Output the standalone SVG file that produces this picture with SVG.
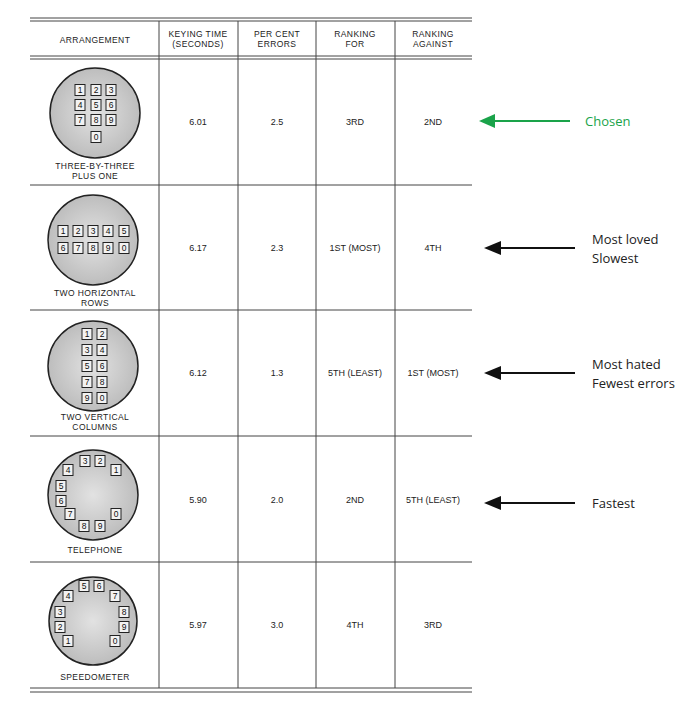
<svg xmlns="http://www.w3.org/2000/svg" width="700" height="707" viewBox="0 0 700 707">
<style>
.t{font-family:"Liberation Sans",Arial,sans-serif;font-size:8.5px;fill:#222;text-anchor:middle;letter-spacing:0.4px}
.v{font-family:"Liberation Sans",Arial,sans-serif;font-size:9px;fill:#222;text-anchor:middle}
.k{font-family:"Liberation Sans",Arial,sans-serif;font-size:8.5px;fill:#111;text-anchor:middle}
.kb{fill:#f2f2f2;stroke:#222;stroke-width:1}
.dial{fill:url(#g);stroke:#222;stroke-width:1.5}
.ln{stroke:#444;stroke-width:1;fill:none}
.a{font-family:"Open Sans","Liberation Sans",sans-serif;font-size:13px;fill:#222}
</style>
<defs>
<radialGradient id="g"><stop offset="0" stop-color="#e2e2e2"/><stop offset="1" stop-color="#bdbdbd"/></radialGradient>
<marker id="ab" markerWidth="10" markerHeight="10" refX="1" refY="5" orient="auto" markerUnits="userSpaceOnUse"><path d="M0,5 L14,0 L14,10Z" fill="#111"/></marker>
<symbol id="key" overflow="visible"><rect class="kb" x="-5" y="-5.5" width="10" height="11"/></symbol>
</defs>
<rect width="700" height="707" fill="#fff"/>
<g id="table">
<line class="ln" x1="30" y1="18" x2="472" y2="18" stroke-width="2"/>
<line class="ln" x1="30" y1="21" x2="472" y2="21"/>
<line class="ln" x1="30" y1="56" x2="472" y2="56"/>
<line class="ln" x1="30" y1="59" x2="472" y2="59"/>
<line class="ln" x1="30" y1="185" x2="472" y2="185"/>
<line class="ln" x1="30" y1="310" x2="472" y2="310"/>
<line class="ln" x1="30" y1="436" x2="472" y2="436"/>
<line class="ln" x1="30" y1="562" x2="472" y2="562"/>
<line class="ln" x1="30" y1="688" x2="472" y2="688" stroke-width="1.5"/>
<line class="ln" x1="30" y1="692" x2="472" y2="692"/>
<line class="ln" x1="159" y1="21" x2="159" y2="688"/>
<line class="ln" x1="238" y1="21" x2="238" y2="688"/>
<line class="ln" x1="316" y1="21" x2="316" y2="688"/>
<line class="ln" x1="395" y1="21" x2="395" y2="688"/>
<text class="t" x="95" y="43">ARRANGEMENT</text>
<text class="t" x="198" y="37">KEYING TIME</text><text class="t" x="198" y="47">(SECONDS)</text>
<text class="t" x="277" y="37">PER CENT</text><text class="t" x="277" y="47">ERRORS</text>
<text class="t" x="355" y="37">RANKING</text><text class="t" x="355" y="47">FOR</text>
<text class="t" x="433" y="37">RANKING</text><text class="t" x="433" y="47">AGAINST</text>
</g>
<g id="row1">
<circle class="dial" cx="95" cy="113" r="45"/>
<g class="k">
<use href="#key" x="80" y="90"/><use href="#key" x="96" y="90"/><use href="#key" x="111" y="90"/>
<use href="#key" x="80" y="105"/><use href="#key" x="96" y="105"/><use href="#key" x="111" y="105"/>
<use href="#key" x="80" y="120"/><use href="#key" x="96" y="120"/><use href="#key" x="111" y="120"/>
<use href="#key" x="96" y="137"/>
</g>
<text class="k" x="80" y="93">1</text><text class="k" x="96" y="93">2</text><text class="k" x="111" y="93">3</text>
<text class="k" x="80" y="108">4</text><text class="k" x="96" y="108">5</text><text class="k" x="111" y="108">6</text>
<text class="k" x="80" y="123">7</text><text class="k" x="96" y="123">8</text><text class="k" x="111" y="123">9</text>
<text class="k" x="96" y="140">0</text>
<text class="t" x="95" y="169">THREE-BY-THREE</text><text class="t" x="95" y="179">PLUS ONE</text>
<text class="v" x="198" y="125">6.01</text><text class="v" x="277" y="125">2.5</text>
<text class="v" x="355" y="125">3RD</text><text class="v" x="433" y="125">2ND</text>
</g>
<g id="row2">
<circle class="dial" cx="93" cy="240" r="45"/>
<use href="#key" x="63" y="231"/><use href="#key" x="78" y="231"/><use href="#key" x="93" y="231"/><use href="#key" x="108" y="231"/><use href="#key" x="124" y="231"/>
<use href="#key" x="63" y="248"/><use href="#key" x="78" y="248"/><use href="#key" x="93" y="248"/><use href="#key" x="108" y="248"/><use href="#key" x="124" y="248"/>
<text class="k" x="63" y="234">1</text><text class="k" x="78" y="234">2</text><text class="k" x="93" y="234">3</text><text class="k" x="108" y="234">4</text><text class="k" x="124" y="234">5</text>
<text class="k" x="63" y="251">6</text><text class="k" x="78" y="251">7</text><text class="k" x="93" y="251">8</text><text class="k" x="108" y="251">9</text><text class="k" x="124" y="251">0</text>
<text class="t" x="95" y="296">TWO HORIZONTAL</text><text class="t" x="95" y="306">ROWS</text>
<text class="v" x="198" y="251">6.17</text><text class="v" x="277" y="251">2.3</text>
<text class="v" x="355" y="251">1ST (MOST)</text><text class="v" x="433" y="251">4TH</text>
</g>
<g id="row3">
<circle class="dial" cx="93" cy="366" r="45"/>
<use href="#key" x="87" y="334"/><use href="#key" x="102" y="334"/>
<use href="#key" x="87" y="350"/><use href="#key" x="102" y="350"/>
<use href="#key" x="87" y="366"/><use href="#key" x="102" y="366"/>
<use href="#key" x="87" y="382"/><use href="#key" x="102" y="382"/>
<use href="#key" x="87" y="398"/><use href="#key" x="102" y="398"/>
<text class="k" x="87" y="337">1</text><text class="k" x="102" y="337">2</text>
<text class="k" x="87" y="353">3</text><text class="k" x="102" y="353">4</text>
<text class="k" x="87" y="369">5</text><text class="k" x="102" y="369">6</text>
<text class="k" x="87" y="385">7</text><text class="k" x="102" y="385">8</text>
<text class="k" x="87" y="401">9</text><text class="k" x="102" y="401">0</text>
<text class="t" x="95" y="420">TWO VERTICAL</text><text class="t" x="95" y="430">COLUMNS</text>
<text class="v" x="198" y="376">6.12</text><text class="v" x="277" y="376">1.3</text>
<text class="v" x="355" y="376">5TH (LEAST)</text><text class="v" x="433" y="376">1ST (MOST)</text>
</g>
<g id="row4">
<circle class="dial" cx="93" cy="495" r="45"/>
<use href="#key" x="85" y="461"/><use href="#key" x="100" y="461"/><use href="#key" x="68" y="470"/><use href="#key" x="116" y="470"/>
<use href="#key" x="61" y="486"/><use href="#key" x="61" y="501"/><use href="#key" x="70" y="514"/><use href="#key" x="84" y="526"/><use href="#key" x="100" y="526"/><use href="#key" x="116" y="514"/>
<text class="k" x="85" y="464">3</text><text class="k" x="100" y="464">2</text><text class="k" x="68" y="473">4</text><text class="k" x="116" y="473">1</text>
<text class="k" x="61" y="489">5</text><text class="k" x="61" y="504">6</text><text class="k" x="70" y="517">7</text><text class="k" x="84" y="529">8</text><text class="k" x="100" y="529">9</text><text class="k" x="116" y="517">0</text>
<text class="t" x="95" y="553">TELEPHONE</text>
<text class="v" x="198" y="503">5.90</text><text class="v" x="277" y="503">2.0</text>
<text class="v" x="355" y="503">2ND</text><text class="v" x="433" y="503">5TH (LEAST)</text>
</g>
<g id="row5">
<circle class="dial" cx="93" cy="621" r="44"/>
<use href="#key" x="84" y="586"/><use href="#key" x="99" y="586"/><use href="#key" x="68" y="596"/><use href="#key" x="115" y="596"/>
<use href="#key" x="60" y="612"/><use href="#key" x="124" y="612"/><use href="#key" x="60" y="627"/><use href="#key" x="124" y="627"/><use href="#key" x="68" y="641"/><use href="#key" x="115" y="641"/>
<text class="k" x="84" y="589">5</text><text class="k" x="99" y="589">6</text><text class="k" x="68" y="599">4</text><text class="k" x="115" y="599">7</text>
<text class="k" x="60" y="615">3</text><text class="k" x="124" y="615">8</text><text class="k" x="60" y="630">2</text><text class="k" x="124" y="630">9</text><text class="k" x="68" y="644">1</text><text class="k" x="115" y="644">0</text>
<text class="t" x="95" y="680">SPEEDOMETER</text>
<text class="v" x="198" y="628">5.97</text><text class="v" x="277" y="628">3.0</text>
<text class="v" x="355" y="628">4TH</text><text class="v" x="433" y="628">3RD</text>
</g>
<g id="connectors">
<line x1="570" y1="121" x2="494" y2="121" stroke="#1aa34a" stroke-width="2"/>
<path d="M479,121 L495,114 L495,128Z" fill="#1aa34a"/>
<line x1="575" y1="248" x2="500" y2="248" stroke="#111" stroke-width="2"/>
<path d="M484,248 L501,241 L501,255Z" fill="#111"/>
<line x1="575" y1="373" x2="500" y2="373" stroke="#111" stroke-width="2"/>
<path d="M484,373 L501,366 L501,380Z" fill="#111"/>
<line x1="575" y1="503" x2="500" y2="503" stroke="#111" stroke-width="2"/>
<path d="M484,503 L501,496 L501,510Z" fill="#111"/>
</g>
<g id="notes">
<text class="a" x="585" y="126" style="fill:#1aa34a">Chosen</text>
<text class="a" x="592" y="244">Most loved</text><text class="a" x="592" y="263">Slowest</text>
<text class="a" x="592" y="369">Most hated</text><text class="a" x="592" y="388">Fewest errors</text>
<text class="a" x="592" y="508">Fastest</text>
</g>
</svg>
